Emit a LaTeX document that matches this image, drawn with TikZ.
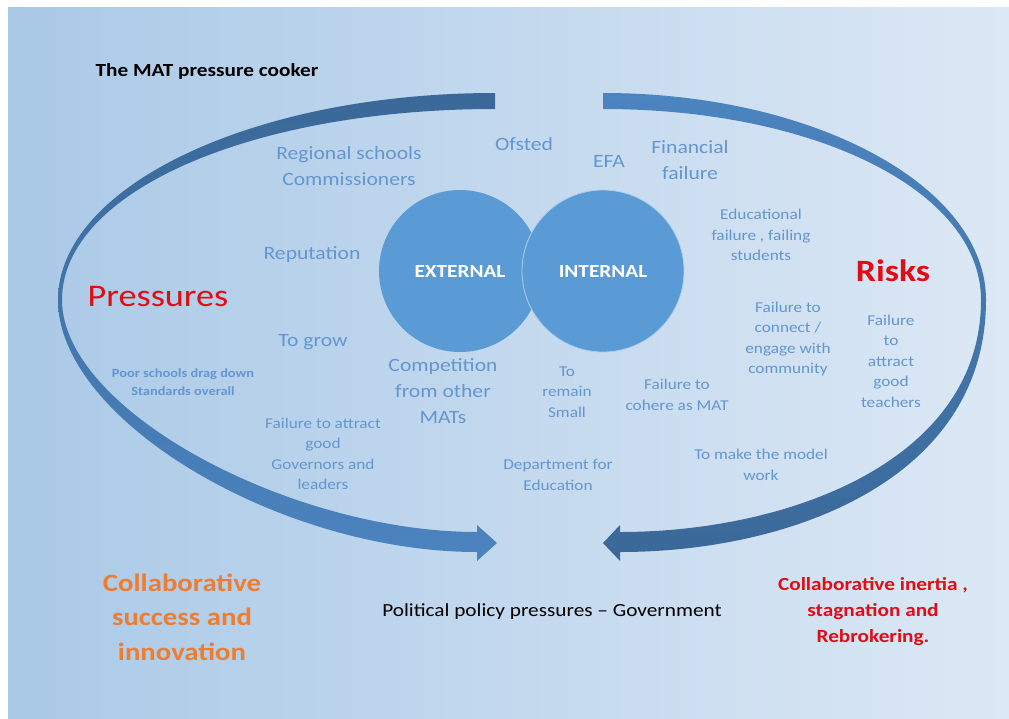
\documentclass[tikz,border=0pt]{standalone}
\usepackage{fontspec}
\setmainfont{Carlito}[FakeStretch=1.15]
\definecolor{bgL}{RGB}{170,201,231}
\definecolor{bgR}{RGB}{220,232,245}
\definecolor{lblue}{RGB}{100,150,208}
\definecolor{circ}{RGB}{91,155,213}
\definecolor{bandD}{RGB}{58,104,152}
\definecolor{bandL}{RGB}{76,132,192}
\definecolor{myred}{RGB}{228,12,20}
\definecolor{myorange}{RGB}{237,125,49}
\begin{document}
\begin{tikzpicture}[x=1pt,y=-1pt,
  lbl/.style={text=lblue, align=center, inner sep=0pt, font=\fontsize{15}{20.5}\selectfont},
  lblbig/.style={text=lblue, align=center, inner sep=0pt, font=\fontsize{18.8}{26}\selectfont},
  circnode/.style={circle, fill=circ, minimum size=162pt, inner sep=0pt, text=white, font=\bfseries\fontsize{18.5}{22}\selectfont}
]
\useasboundingbox (0,0) rectangle (1009,718);
\fill[white] (0,0) rectangle (1009,718);
\shade[left color=bgL, right color=bgR] (8,7) rectangle (1009,718);

% left curved arrow
\shade[top color=bandD, bottom color=bandL]
  (495,93) .. controls (254,93) and (58,186) .. (58,300)
  .. controls (58,420) and (280,552) .. (477,552)
  -- (477,561) -- (497,543) -- (477,525) -- (477,532)
  .. controls (290,532) and (62,410) .. (62,300)
  .. controls (62,190) and (255,109) .. (495,109) -- cycle;

% right curved arrow
\shade[top color=bandL, bottom color=bandD]
  (603,93) .. controls (814,93) and (986,186) .. (986,300)
  .. controls (986,480) and (790,552) .. (620,552)
  -- (620,561) -- (603,543) -- (620,525) -- (620,532)
  .. controls (790,532) and (981,460) .. (981,300)
  .. controls (981,190) and (814,109) .. (603,109) -- cycle;

% circles
\node[circnode] (ext) at (460,271) {EXTERNAL};
\node[circnode, draw={rgb,255:red,175;green,205;blue,235}, line width=0.8pt] (int) at (603,271) {INTERNAL};

% titles
\node[inner sep=0pt, font=\bfseries\fontsize{18.5}{22}\selectfont] (title) at (207,71) {The MAT pressure cooker};
\node[inner sep=0pt, text=myred, font=\fontsize{31.5}{38}\selectfont] (press) at (158,297) {Pressures};
\node[inner sep=0pt, text=myred, font=\bfseries\fontsize{31}{38}\selectfont] (risks) at (893,271) {Risks};

% labels
\node[lblbig] (rsc) at (349,166) {Regional schools\\Commissioners};
\node[lblbig] (ofsted) at (524,144) {Ofsted};
\node[lblbig] (efa) at (609,161) {EFA};
\node[lblbig] (fin) at (690,160) {Financial\\failure};
\node[lblbig] (rep) at (312,255) {Reputation};
\node[lblbig] (grow) at (313,342) {To grow};
\node[lblbig] (comp) at (443,391) {Competition\\from other\\MATs};
\node[text=lblue, align=center, inner sep=0pt, font=\bfseries\fontsize{12.5}{17.5}\selectfont] (poor) at (183,382) {Poor schools drag down\\Standards overall};

\node[lbl] (edu) at (761,235) {Educational\\failure , failing\\students};
\node[lbl] (conn) at (788,339) {Failure to\\connect /\\engage with\\community};
\node[lbl] (teach) at (891,361) {Failure\\to\\attract\\good\\teachers};
\node[lbl] (small) at (567,392) {To\\remain\\Small};
\node[lbl] (cohere) at (677,395) {Failure to\\cohere as MAT};
\node[lbl] (gov) at (323,454) {Failure to attract\\good\\Governors and\\leaders};
\node[lbl] (dfe) at (558,475) {Department for\\Education};
\node[lbl] (model) at (761,465) {To make the model\\work};

% bottom texts
\node[text=myorange, align=center, inner sep=0pt, font=\bfseries\fontsize{25}{34.5}\selectfont] (succ) at (182,617) {Collaborative\\success and\\innovation};
\node[inner sep=0pt, font=\fontsize{18.5}{22}\selectfont] (pol) at (552,612) {Political policy pressures -- Government};
\node[text=myred, align=center, inner sep=0pt, font=\bfseries\fontsize{18.5}{26}\selectfont] (inertia) at (873,612) {Collaborative inertia ,\\stagnation and\\Rebrokering.};
\end{tikzpicture}
\end{document}
